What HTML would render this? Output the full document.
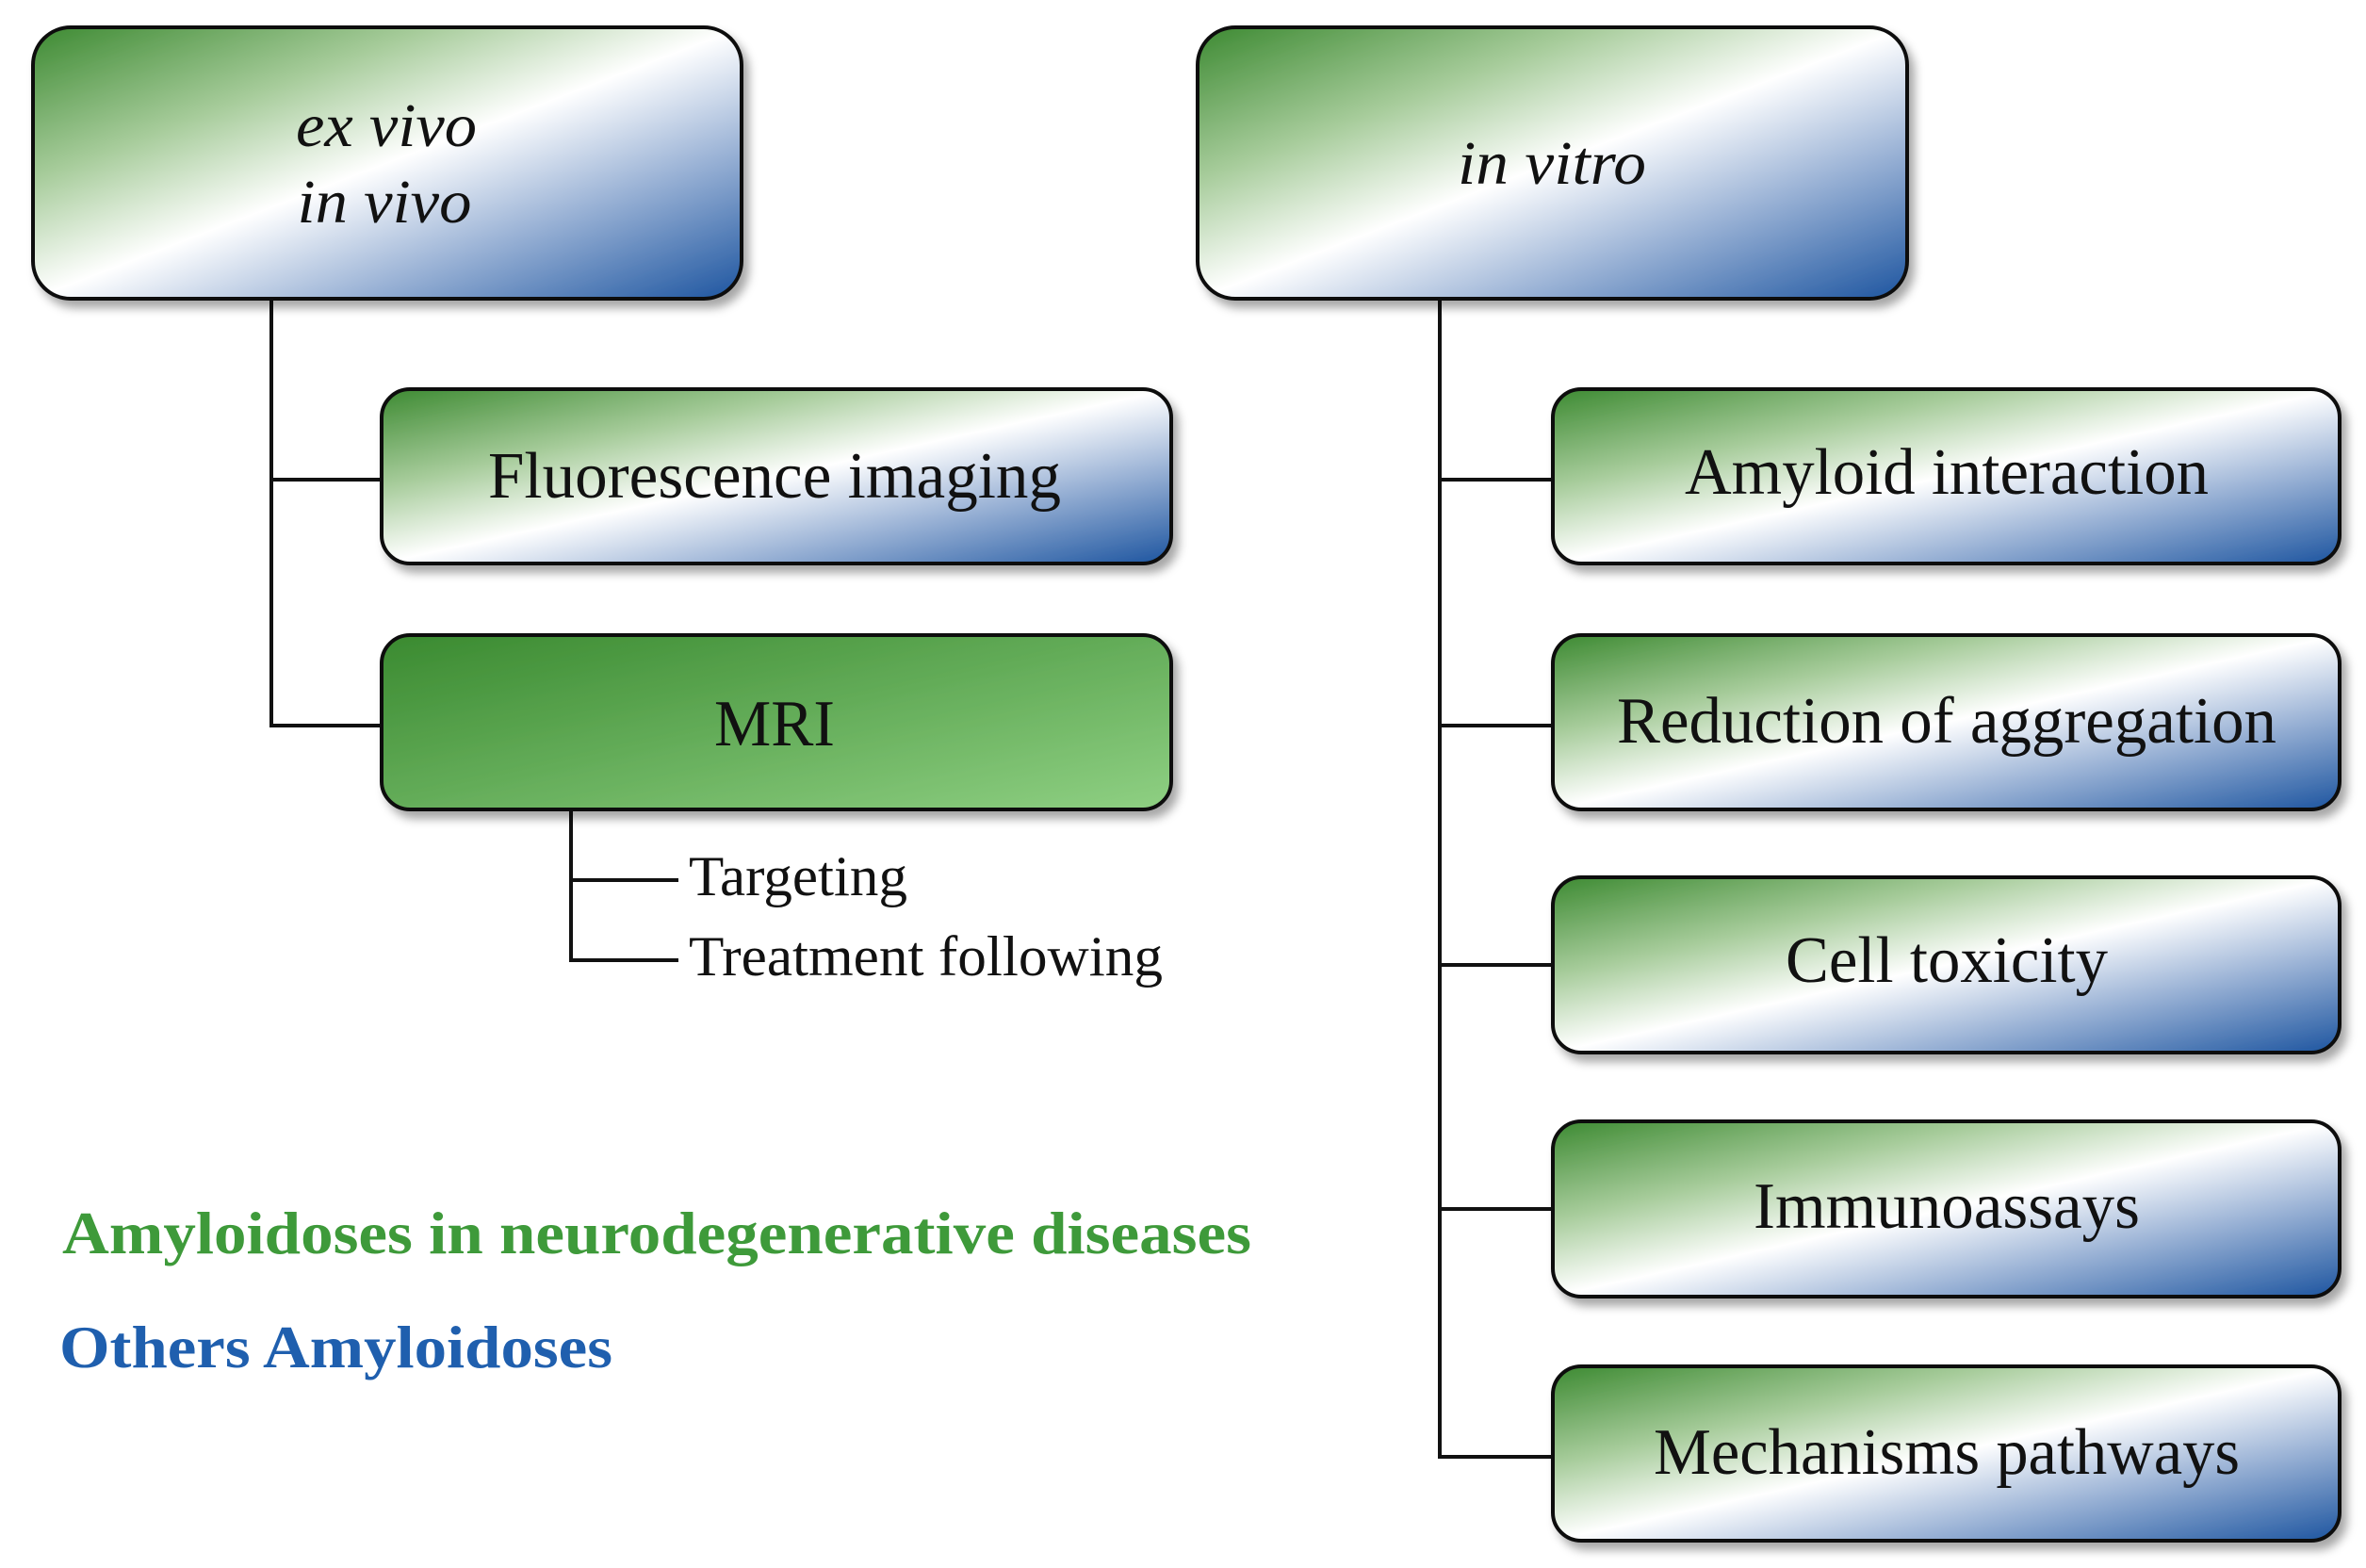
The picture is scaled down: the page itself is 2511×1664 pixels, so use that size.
<!DOCTYPE html>
<html><head><meta charset="utf-8"><style>
html,body{margin:0;padding:0;background:#fff;}
svg{display:block;}
</style></head><body>
<svg width="2511" height="1664" viewBox="0 0 2511 1664" xmlns="http://www.w3.org/2000/svg">
<defs>
<linearGradient id="gb" x1="0" y1="0" x2="1" y2="1">
<stop offset="0" stop-color="#3d8a32"/>
<stop offset="0.28" stop-color="#a7cc9b"/>
<stop offset="0.5" stop-color="#ffffff"/>
<stop offset="0.72" stop-color="#9bb3d6"/>
<stop offset="1" stop-color="#1d55a0"/>
</linearGradient>
<linearGradient id="gg" x1="0" y1="0" x2="1" y2="1">
<stop offset="0" stop-color="#3a8a30"/>
<stop offset="1" stop-color="#8fd083"/>
</linearGradient>
<filter id="sh" x="-5%" y="-10%" width="115%" height="130%">
<feDropShadow dx="6" dy="8" stdDeviation="5" flood-color="#000" flood-opacity="0.35"/>
</filter>
</defs>
<g stroke="#111" stroke-width="4" fill="none">
<polyline points="288,317 288,770 405,770"/>
<line x1="288" y1="509" x2="405" y2="509"/>
<polyline points="606,859 606,1019 720,1019"/>
<line x1="606" y1="934" x2="720" y2="934"/>
<polyline points="1528,317 1528,1546 1648,1546"/>
<line x1="1528" y1="509" x2="1648" y2="509"/>
<line x1="1528" y1="770" x2="1648" y2="770"/>
<line x1="1528" y1="1024" x2="1648" y2="1024"/>
<line x1="1528" y1="1283" x2="1648" y2="1283"/>
</g>
<g stroke="#111" stroke-width="4" filter="url(#sh)">
<rect x="35" y="29" width="752" height="288" rx="40" fill="url(#gb)"/>
<rect x="1271" y="29" width="753" height="288" rx="40" fill="url(#gb)"/>
<rect x="405" y="413" width="838" height="185" rx="30" fill="url(#gb)"/>
<rect x="405" y="674" width="838" height="185" rx="30" fill="url(#gg)"/>
<rect x="1648" y="413" width="835" height="185" rx="30" fill="url(#gb)"/>
<rect x="1648" y="674" width="835" height="185" rx="30" fill="url(#gb)"/>
<rect x="1648" y="931" width="835" height="186" rx="30" fill="url(#gb)"/>
<rect x="1648" y="1190" width="835" height="186" rx="30" fill="url(#gb)"/>
<rect x="1648" y="1450" width="835" height="185" rx="30" fill="url(#gb)"/>
</g>
<g font-family="'Liberation Serif', serif" fill="#111" text-anchor="middle" lengthAdjust="spacingAndGlyphs">
<text x="410" y="155" font-size="66" font-style="italic" textLength="192" lengthAdjust="spacingAndGlyphs">ex vivo</text>
<text x="408" y="236" font-size="66" font-style="italic" textLength="185" lengthAdjust="spacingAndGlyphs">in vivo</text>
<text x="1647" y="195" font-size="66" font-style="italic" textLength="200" lengthAdjust="spacingAndGlyphs">in vitro</text>
<text x="822" y="528" font-size="70" textLength="608" lengthAdjust="spacingAndGlyphs">Fluorescence imaging</text>
<text x="822" y="791" font-size="70" textLength="128" lengthAdjust="spacingAndGlyphs">MRI</text>
<text x="2066" y="524" font-size="70" textLength="556" lengthAdjust="spacingAndGlyphs">Amyloid interaction</text>
<text x="2066" y="788" font-size="70" textLength="700" lengthAdjust="spacingAndGlyphs">Reduction of aggregation</text>
<text x="2066" y="1042" font-size="70" textLength="342" lengthAdjust="spacingAndGlyphs">Cell toxicity</text>
<text x="2066" y="1303" font-size="70" textLength="410" lengthAdjust="spacingAndGlyphs">Immunoassays</text>
<text x="2066" y="1564" font-size="70" textLength="622" lengthAdjust="spacingAndGlyphs">Mechanisms pathways</text>
</g>
<g font-family="'Liberation Serif', serif" fill="#111">
<text x="731" y="950" font-size="60" textLength="232" lengthAdjust="spacingAndGlyphs">Targeting</text>
<text x="731" y="1035" font-size="60" textLength="503" lengthAdjust="spacingAndGlyphs">Treatment following</text>
</g>
<g font-family="'Liberation Serif', serif" font-weight="bold">
<text x="66" y="1330" font-size="64" fill="#3e9a3a" textLength="1262" lengthAdjust="spacingAndGlyphs">Amyloidoses in neurodegenerative diseases</text>
<text x="63" y="1451" font-size="64" fill="#1f5fae" textLength="587" lengthAdjust="spacingAndGlyphs">Others Amyloidoses</text>
</g>
</svg>
</body></html>
